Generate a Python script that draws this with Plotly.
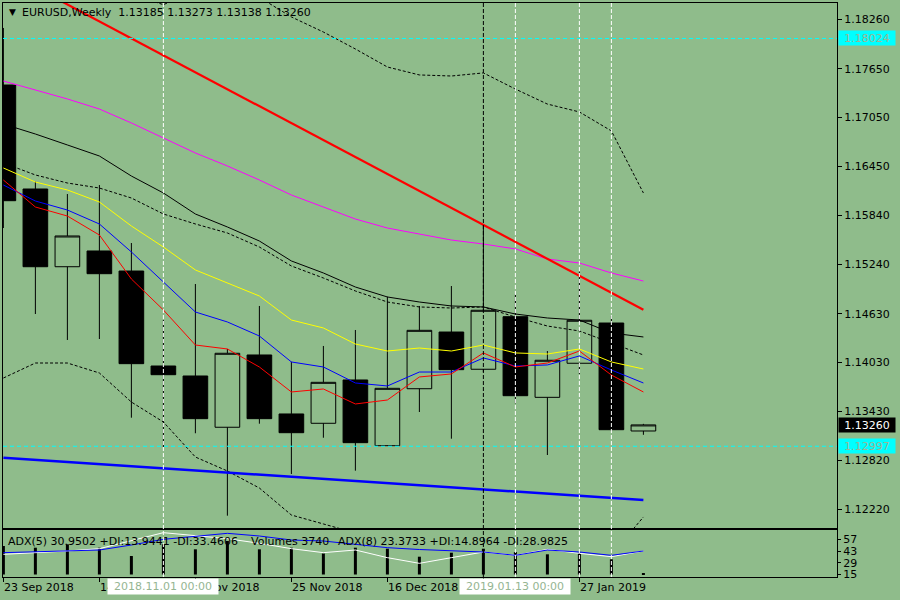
import pandas as pd
import plotly.graph_objects as go

# weekly candles, EURUSD
weeks = pd.date_range("2018-09-23", periods=21, freq="7D")

opens = [1.17450, 1.16168, 1.15210, 1.15404, 1.15157, 1.13986, 1.13863, 1.13231, 1.14122, 1.13395, 1.13280,
         1.13814, 1.13004, 1.13706, 1.14405, 1.13946, 1.14594, 1.13600, 1.14020, 1.14516, 1.13185]
highs = [1.18153, 1.16258, 1.16106, 1.16217, 1.15502, 1.14553, 1.14997, 1.14196, 1.14726, 1.14039, 1.14233,
         1.14430, 1.14841, 1.14726, 1.14972, 1.15724, 1.14870, 1.14171, 1.15149, 1.14606, 1.13273]
lows = [1.15687, 1.14627, 1.14307, 1.14319, 1.13349, 1.12988, 1.13157, 1.12141, 1.13275, 1.12655, 1.13102,
        1.12696, 1.13000, 1.13419, 1.13090, 1.13912, 1.13526, 1.12889, 1.13888, 1.13188, 1.13138]
closes = [1.16024, 1.15210, 1.15589, 1.15124, 1.14015, 1.13879, 1.13337, 1.14143, 1.13337, 1.13164, 1.13785,
          1.13041, 1.13711, 1.14426, 1.13941, 1.14673, 1.13620, 1.14057, 1.14550, 1.13201, 1.13260]

# moving averages
ma_red = [1.16279, 1.15946, 1.15835, 1.15601, 1.15059, 1.14677, 1.14245, 1.14196, 1.13974, 1.13666, 1.13703,
          1.13518, 1.13567, 1.13851, 1.13888, 1.14147, 1.13974, 1.14023, 1.14171, 1.13875, 1.13666]
ma_blue = [1.16217, 1.16020, 1.15909, 1.15737, 1.15392, 1.15022, 1.14652, 1.14529, 1.14356, 1.14036, 1.13974,
           1.13777, 1.13740, 1.13912, 1.13912, 1.14085, 1.13986, 1.13999, 1.14110, 1.13937, 1.13777]
ma_yellow = [1.16427, 1.16254, 1.16156, 1.16008, 1.15712, 1.15453, 1.15170, 1.15009, 1.14849, 1.14553, 1.14455,
             1.14257, 1.14171, 1.14208, 1.14171, 1.14245, 1.14147, 1.14134, 1.14196, 1.14036, 1.13949]
ma_black = [1.16969, 1.16846, 1.16711, 1.16575, 1.16328, 1.16119, 1.15860, 1.15700, 1.15527, 1.15281, 1.15133,
            1.14960, 1.14837, 1.14775, 1.14726, 1.14714, 1.14627, 1.14578, 1.14553, 1.14393, 1.14344]
ma_magenta = [1.17499, 1.17389, 1.17278, 1.17154, 1.16982, 1.16797, 1.16612, 1.16452, 1.16279, 1.16094, 1.15946,
              1.15798, 1.15687, 1.15613, 1.15539, 1.15490, 1.15429, 1.15305, 1.15256, 1.15133, 1.15034]

# bollinger bands
bb_mid = [1.16489, 1.16341, 1.16242, 1.16180, 1.16057, 1.15860, 1.15737, 1.15626, 1.15453, 1.15219, 1.15071,
          1.14911, 1.14775, 1.14714, 1.14701, 1.14714, 1.14590, 1.14479, 1.14418, 1.14270, 1.14122]
bb_upper = [1.19140, 1.18700, 1.18580, 1.18560, 1.18570, 1.18440, 1.18610, 1.18560, 1.18530, 1.18289, 1.18103,
            1.17894, 1.17672, 1.17574, 1.17561, 1.17599, 1.17400, 1.17215, 1.17118, 1.16884, 1.16119]
bb_lower = [1.13838, 1.14023, 1.14023, 1.13900, 1.13542, 1.13296, 1.12864, 1.12692, 1.12482, 1.12149, 1.12039,
            1.11928, 1.11878, 1.11854, 1.11841, 1.11829, 1.11780, 1.11743, 1.11718, 1.11656, 1.12125]

# trend lines (first and last week)
red_trend = [1.18861, 1.14680]
blue_trend = [1.12856, 1.12334]

# horizontal levels
levels = [1.18024, 1.12997]
last_price = 1.13260

# lower window
adx_blue = [41.2, 42.0, 43.2, 44.4, 50.4, 57.2, 60.8, 64.4, 61.2, 56.4, 55.2, 51.6, 47.2, 45.0, 43.2, 42.0,
            38.0, 44.4, 42.0, 38.0, 43.2]
adx_white = [39.2, 40.8, 43.2, 46.0, 55.2, 65.2, 61.6, 58.0, 52.4, 46.0, 41.2, 44.4, 35.2, 28.4, 35.2, 42.0,
             38.0, 45.2, 40.4, 36.4, 43.2]
volumes = [71200, 67000, 75500, 67000, 46200, 75500, 63000, 83700, 63000, 67000, 52500, 67000, 64500, 44500,
           54500, 64500, 56200, 50500, 54500, 38000, 3740]

price_ticks = [1.12220, 1.12820, 1.13430, 1.14030, 1.14630, 1.15240, 1.15840, 1.16450, 1.17050, 1.17650, 1.18260]
adx_ticks = [15, 29, 43, 57]

bg = "#8FBC8B"
font = "DejaVu Sans"

x_range = [str(weeks[0] - pd.Timedelta(hours=2)), str(weeks[0] + pd.Timedelta(days=7 * 26.05))]

fig = go.Figure()

fig.add_trace(go.Candlestick(
    x=weeks, open=opens, high=highs, low=lows, close=closes,
    increasing=dict(line=dict(color="black", width=1), fillcolor=bg),
    decreasing=dict(line=dict(color="black", width=1), fillcolor="black"),
    hoverinfo="skip", xaxis="x", yaxis="y"))


def add_line(y, color, width=1, dash="solid", x=weeks, xa="x", ya="y"):
    fig.add_trace(go.Scatter(x=x, y=y, mode="lines", line=dict(color=color, width=width, dash=dash),
                             hoverinfo="skip", xaxis=xa, yaxis=ya))


add_line(bb_upper, "black", dash="3px,2px")
add_line(bb_lower, "black", dash="3px,2px")
add_line(bb_mid, "black", dash="3px,2px")
add_line(ma_black, "black")
add_line(ma_magenta, "#FF00FF")
add_line(ma_yellow, "#FFFF00")
add_line(ma_blue, "#0000FF")
add_line(ma_red, "#FF0000")
add_line(red_trend, "#FF0000", width=2.2, x=[weeks[0], weeks[-1]])
add_line(blue_trend, "#0000FF", width=2.5, x=[weeks[0], weeks[-1]])

# volumes + ADX
fig.add_trace(go.Bar(x=weeks, y=volumes, width=56700000, marker=dict(color="black", line=dict(width=0)),
                     hoverinfo="skip", xaxis="x2", yaxis="y2"))
add_line(adx_white, "white", xa="x2", ya="y3")
add_line(adx_blue, "#0000FF", xa="x2", ya="y3")

# vertical lines and levels
shapes = []
for i, col in [(5, "white"), (15, "black"), (16, "white"), (18, "white"), (19, "white")]:
    shapes.append(dict(type="line", xref="x", yref="paper", x0=weeks[i], x1=weeks[i], y0=0, y1=1,
                       line=dict(color=col, width=1, dash="4px,2px"), layer="above"))
for lv in levels:
    shapes.append(dict(type="line", xref="paper", yref="y", x0=0, x1=1, y0=lv, y1=lv,
                       line=dict(color="#00FFFF", width=1, dash="4px,3px"), layer="above"))

ann = []
ann.append(dict(text="▼", xref="paper", yref="paper", x=0.0048, y=0.9843, xanchor="left", yanchor="middle",
                showarrow=False, font=dict(size=9, color="black")))
ann.append(dict(text="EURUSD,Weekly  1.13185 1.13273 1.13138 1.13260", xref="paper", yref="paper",
                x=0.0205, y=0.9843, xanchor="left", yanchor="middle", showarrow=False))
for txt, xp in [("ADX(5) 30.9502 +DI:13.9441 -DI:33.4606", 0.0036),
                ("Volumes 3740", 0.2950),
                ("ADX(8) 23.3733 +DI:14.8964 -DI:28.9825", 0.3995)]:
    ann.append(dict(text=txt, xref="paper", yref="paper", x=xp, y=0.0627, xanchor="left", yanchor="middle",
                    showarrow=False))

for lv in levels:
    ann.append(dict(text=f"{lv:.5f}", xref="paper", yref="y", x=1.0012, y=lv, xanchor="left",
                    yanchor="middle", showarrow=False, bgcolor="#00FFFF", width=54, height=12, borderpad=1,
                    font=dict(color="#9AB596")))
ann.append(dict(text=f"{last_price:.5f}", xref="paper", yref="y", x=1.0012, y=last_price, xanchor="left",
                yanchor="middle", showarrow=False, bgcolor="black", width=54, height=12, borderpad=1,
                font=dict(color="white")))

for i in range(0, 21, 3):
    ann.append(dict(text=weeks[i].strftime("%-d %b %Y"), xref="x2", yref="paper", x=weeks[i], y=-0.0179,
                    xanchor="left", yanchor="middle", showarrow=False, xshift=-1))
for i, txt in [(5, "2018.11.01 00:00"), (16, "2019.01.13 00:00")]:
    ann.append(dict(text=txt, xref="x2", yref="paper", x=weeks[i], y=-0.0170, xanchor="center",
                    yanchor="middle", showarrow=False, bgcolor="white", width=108, height=13, borderpad=1,
                    font=dict(color="#95B592")))

axis_common = dict(showgrid=False, zeroline=False, showline=True, mirror=True, linecolor="black", linewidth=1)

fig.update_layout(
    width=900, height=600,
    margin=dict(l=3, r=63, t=3, b=23),
    paper_bgcolor=bg, plot_bgcolor=bg,
    showlegend=False,
    boxgap=0.23, boxgroupgap=0,
    font=dict(family=font, size=11, color="black"),
    xaxis=dict(type="date", range=x_range, anchor="y", showticklabels=False, ticks="",
               rangeslider=dict(visible=False), **axis_common),
    yaxis=dict(domain=[0.08537, 1], range=[1.119892, 1.184609], side="right", tickvals=price_ticks,
               tickformat=".5f", ticks="outside", ticklen=4, tickcolor="black", anchor="x", **axis_common),
    xaxis2=dict(type="date", range=x_range, anchor="y2", tickvals=list(weeks[::3]), showticklabels=False,
                ticks="outside", ticklen=4, tickcolor="black", **axis_common),
    yaxis2=dict(domain=[0, 0.08188], range=[-6250, 111250], showticklabels=False, ticks="", anchor="x2",
                **axis_common),
    yaxis3=dict(overlaying="y2", anchor="x2", side="right", range=[12, 68.4], tickvals=adx_ticks,
                ticks="outside", ticklen=3, tickcolor="black", showgrid=False, zeroline=False, showline=False),
    shapes=shapes,
    annotations=ann,
)

# the page body has a default 8px margin; remove it so the figure sits at the window corner
fig.write_html("out.html", config={"displayModeBar": False},
               post_script="document.body.style.margin='0';")
